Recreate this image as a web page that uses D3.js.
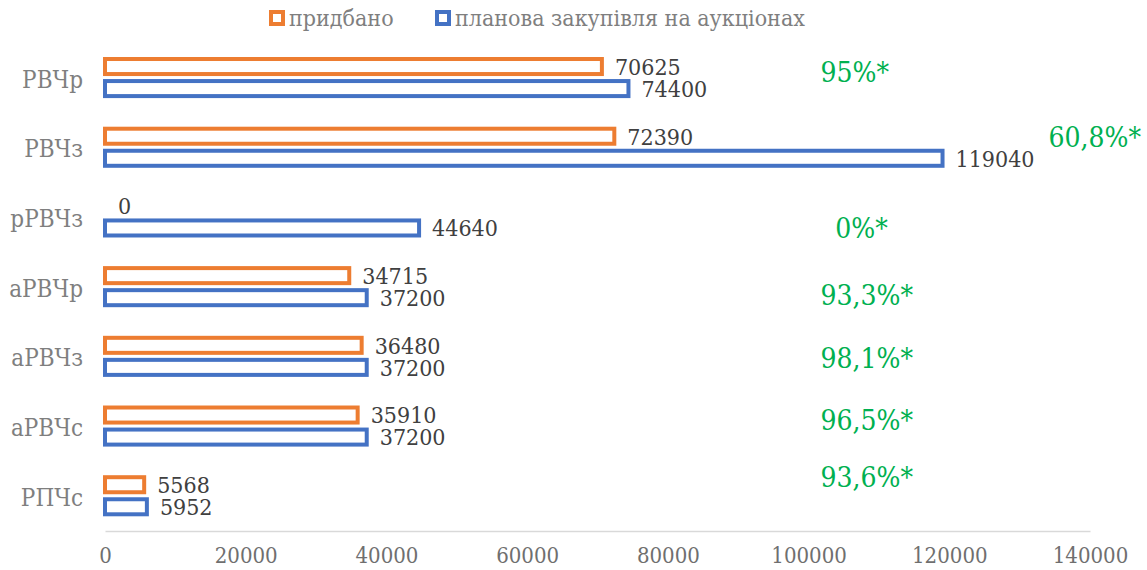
<!DOCTYPE html>
<html>
<head>
<meta charset="utf-8">
<script src="https://cdn.jsdelivr.net/npm/d3@7"></script>
<style>
  body { margin: 0; background: #fff; }
  svg text { font-family: "DejaVu Serif Condensed", "DejaVu Serif", serif; font-stretch: condensed; }
</style>
</head>
<body>
<div id="chart"></div>
<script>
// categories and series
var categories = ['РВЧр', 'РВЧз', 'рРВЧз', 'аРВЧр', 'аРВЧз', 'аРВЧс', 'РПЧс'];
var seriesNames = ['придбано', 'планова закупівля на аукціонах'];
var bought = [70625, 72390, 0, 34715, 36480, 35910, 5568];
var planned = [74400, 119040, 44640, 37200, 37200, 37200, 5952];
var shareLabels = ['95%*', '60,8%*', '0%*', '93,3%*', '98,1%*', '96,5%*', '93,6%*'];
var xTicks = [0, 20000, 40000, 60000, 80000, 100000, 120000, 140000];

// where the green notes sit (x in chart units, y offset from row centre in px)
var notePlace = [
  { x: 101700, dy: -5.5 }, { x: 134100, dy: -10 }, { x: 103800, dy: 11 },
  { x: 101700, dy: 8.5 }, { x: 101700, dy: 2 }, { x: 101700, dy: -6 }, { x: 101700, dy: -18.5 }
];

var colors = ['#ED7D31', '#4472C4'];
var width = 1147, height = 570;

var svg = d3.select('#chart').append('svg')
  .attr('width', width)
  .attr('height', height);

var x = d3.scaleLinear().domain([0, 140000]).range([105, 1090]);

var y0 = d3.scaleBand()
  .domain(categories)
  .range([42.7, 530.6])
  .paddingInner(0.468)
  .paddingOuter(0.234);

var y1 = d3.scaleBand()
  .domain(seriesNames)
  .range([0, y0.bandwidth()])
  .paddingInner(0.318);

// x axis
var xAxis = svg.append('g')
  .attr('transform', 'translate(0,531)')
  .call(d3.axisBottom(x).tickValues(xTicks).tickFormat(d3.format('d')).tickSize(0).tickSizeOuter(0).tickPadding(16));
xAxis.select('.domain').attr('stroke', '#d9d9d9').attr('stroke-width', 1.5);
xAxis.selectAll('text')
  .attr('fill', '#6f6f6f')
  .style('font-size', '22px')
  .attr('font-family', null);

// category axis
var yAxis = svg.append('g')
  .attr('transform', 'translate(83,0)')
  .call(d3.axisLeft(y0).tickSize(0).tickPadding(0));
yAxis.select('.domain').remove();
yAxis.selectAll('text')
  .attr('fill', '#7f7f7f')
  .style('font-size', '24px')
  .attr('font-family', null)
  .attr('dy', '0.42em');

var rows = categories.map(function (c, i) {
  return { cat: c, values: [bought[i], planned[i]] };
});

var groups = svg.selectAll('.row')
  .data(rows)
  .enter()
  .append('g')
  .attr('class', 'row')
  .attr('transform', function (d) { return 'translate(0,' + y0(d.cat) + ')'; });

var bars = groups.selectAll('.bar')
  .data(function (d) {
    return d.values.map(function (v, j) { return { name: seriesNames[j], value: v, j: j }; });
  })
  .enter();

bars.filter(function (d) { return d.value > 0; })
  .append('rect')
  .attr('class', 'bar')
  .attr('x', x(0))
  .attr('y', function (d) { return y1(d.name); })
  .attr('width', function (d) { return x(d.value) - x(0); })
  .attr('height', y1.bandwidth())
  .attr('fill', '#fff')
  .attr('stroke', function (d) { return colors[d.j]; })
  .attr('stroke-width', 4);

bars.append('text')
  .attr('x', function (d) { return x(d.value) + 13; })
  .attr('y', function (d) { return y1(d.name) + y1.bandwidth() / 2; })
  .attr('dy', '0.36em')
  .attr('fill', '#404040')
  .style('font-size', '23px')
  .text(function (d) { return d.value; });

// green share notes
svg.selectAll('.note')
  .data(shareLabels)
  .enter()
  .append('text')
  .attr('class', 'note')
  .attr('x', function (d, i) { return x(notePlace[i].x); })
  .attr('y', function (d, i) { return y0(categories[i]) + y0.bandwidth() / 2 + notePlace[i].dy; })
  .attr('dy', '0.36em')
  .attr('fill', '#00B050')
  .style('font-size', '28px')
  .text(function (d) { return d; });

// legend
var legendX = [271, 437];
var legend = svg.selectAll('.legend')
  .data(seriesNames)
  .enter()
  .append('g')
  .attr('class', 'legend')
  .attr('transform', function (d, i) { return 'translate(' + legendX[i] + ',12)'; });
legend.append('rect')
  .attr('width', 12).attr('height', 12)
  .attr('fill', '#fff')
  .attr('stroke', function (d, i) { return colors[i]; })
  .attr('stroke-width', 4);
legend.append('text')
  .attr('x', 18)
  .attr('y', 6)
  .attr('dy', '0.36em')
  .attr('fill', '#7f7f7f')
  .style('font-size', '23px')
  .text(function (d) { return d; });
</script>
</body>
</html>
